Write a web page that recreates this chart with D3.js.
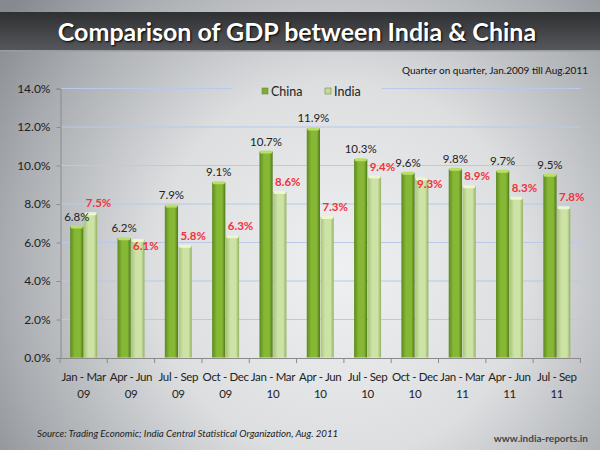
<!DOCTYPE html>
<html><head><meta charset="utf-8">
<script src="https://cdn.jsdelivr.net/npm/d3@7"></script>
<style>html,body{margin:0;padding:0;background:#fff;}svg{display:block;}</style>
</head><body>
<script>
const categories = ["Jan - Mar|09","Apr - Jun|09","Jul - Sep|09","Oct - Dec|09","Jan - Mar|10","Apr - Jun|10","Jul - Sep|10","Oct - Dec|10","Jan - Mar|11","Apr - Jun|11","Jul - Sep|11"];
const china = [6.8, 6.2, 7.9, 9.1, 10.7, 11.9, 10.3, 9.6, 9.8, 9.7, 9.5];
const india = [7.5, 6.1, 5.8, 6.3, 8.6, 7.3, 9.4, 9.3, 8.9, 8.3, 7.8];
const seriesNames = ["China", "India"];
const yTicks = [0, 2, 4, 6, 8, 10, 12, 14];
const title = "Comparison of GDP between India & China";
const subtitle = "Quarter on quarter, Jan.2009 till Aug.2011";
const source = "Source: Trading Economic; India Central Statistical Organization, Aug. 2011";
const site = "www.india-reports.in";

const FONT = "Lato, 'Open Sans', sans-serif";
const W = 600, H = 450;
const svg = d3.select("body").append("svg").attr("width", W).attr("height", H);
const defs = svg.append("defs");

// background gradient
const bg = defs.append("radialGradient").attr("id","bg").attr("gradientUnits","userSpaceOnUse")
  .attr("cx",340).attr("cy",270).attr("r",420);
bg.append("stop").attr("offset","0").attr("stop-color","#eef0f1");
bg.append("stop").attr("offset","0.45").attr("stop-color","#dcdee0");
bg.append("stop").attr("offset","0.8").attr("stop-color","#a8abaf");
bg.append("stop").attr("offset","1").attr("stop-color","#86898e");
svg.append("rect").attr("width",W).attr("height",H).attr("fill","url(#bg)");

// banner
const ban = defs.append("linearGradient").attr("id","ban").attr("x1",0).attr("y1",0).attr("x2",0).attr("y2",1);
ban.append("stop").attr("offset","0").attr("stop-color","#2f3032");
ban.append("stop").attr("offset","1").attr("stop-color","#55575a");
svg.append("rect").attr("x",0).attr("y",12).attr("width",W).attr("height",38).attr("fill","url(#ban)");
svg.append("rect").attr("x",0).attr("y",50).attr("width",W).attr("height",1.5).attr("fill","#9a9ca0");
svg.append("text").attr("x",297).attr("y",41).attr("text-anchor","middle")
  .attr("font-family",FONT).attr("font-weight","bold").attr("font-size",25)
  .attr("fill","#ffffff").attr("style","text-shadow:1px 1px 2px #000").text(title);
svg.append("text").attr("x",588).attr("y",74).attr("text-anchor","end")
  .attr("font-family",FONT).attr("font-size",10).attr("fill","#111").text(subtitle);

// scales
const x0 = d3.scaleBand().domain(categories).range([60, 580.5]).paddingInner(0.43).paddingOuter(0.215);
const x1 = d3.scaleBand().domain(seriesNames).range([0, x0.bandwidth()]).paddingInner(0.04);
const y = d3.scaleLinear().domain([0, 14]).range([357.5, 88]);

// gridlines
svg.append("g").selectAll("line").data(yTicks.filter(d => d > 0)).join("line")
  .attr("x1", 60).attr("x2", 580.5).attr("y1", d => y(d)+0.5).attr("y2", d => y(d)+0.5)
  .attr("stroke", "#b9c9ea").attr("stroke-width", 1);

// y axis
const yAxis = d3.axisLeft(y).tickValues(yTicks).tickFormat(d => d.toFixed(1) + "%").tickSize(4).tickPadding(6);
const gy = svg.append("g").attr("transform","translate(60.5,0.5)").call(yAxis);
gy.select(".domain").attr("stroke","#8a8a8a");
gy.selectAll(".tick line").attr("stroke","#8a8a8a");
gy.selectAll("text").attr("font-family",FONT).attr("font-size",12).attr("fill","#222");

// x axis
const xAxis = d3.axisBottom(x0).tickSize(0).tickFormat("");
const gx = svg.append("g").attr("transform",`translate(0,${y(0)+0.5})`).call(xAxis);
gx.select(".domain").attr("stroke","#8a8a8a");
const bounds = categories.map(c => x0(c) - x0.step()*x0.paddingInner()/2).concat([580.5]);
gx.selectAll("line.sep").data(bounds).join("line").attr("class","sep")
  .attr("x1", d => d).attr("x2", d => d).attr("y1", 0).attr("y2", 5).attr("stroke","#8a8a8a");
const catLab = svg.append("g").selectAll("text").data(categories).join("text")
  .attr("x", d => x0(d) + x0.bandwidth()/2).attr("y", 381).attr("text-anchor","middle")
  .attr("font-family",FONT).attr("font-size",11.5).attr("letter-spacing","-0.35px").attr("fill","#222");
catLab.each(function(d){
  const parts = d.split("|");
  d3.select(this).append("tspan").attr("x", x0(d)+x0.bandwidth()/2).attr("dy",0).text(parts[0]);
  d3.select(this).append("tspan").attr("x", x0(d)+x0.bandwidth()/2).attr("dy",17).text(parts[1]);
});

// bar gradients
function grad(id, edgeL, mid, edgeR) {
  const g = defs.append("linearGradient").attr("id", id).attr("x1",0).attr("x2",1).attr("y1",0).attr("y2",0);
  g.append("stop").attr("offset","0").attr("stop-color",edgeL);
  g.append("stop").attr("offset","0.35").attr("stop-color",mid);
  g.append("stop").attr("offset","0.75").attr("stop-color",mid);
  g.append("stop").attr("offset","1").attr("stop-color",edgeR);
}
grad("gChina", "#5d8a1f", "#86b835", "#4e7818");
grad("gIndia", "#a8c47a", "#cde3a6", "#93b163");
const fills = {China: "url(#gChina)", India: "url(#gIndia)"};
const caps = {China: "#b9df6a", India: "#ecf6cf"};
const legendFill = {China: "#7cb02c", India: "#c4dc98"};

const data = categories.map((c, i) => ({cat: c, vals: [{s:"China", v: china[i]}, {s:"India", v: india[i]}]}));
const groups = svg.append("g").selectAll("g").data(data).join("g").attr("transform", d => `translate(${x0(d.cat)},0)`);
groups.selectAll("rect.bar").data(d => d.vals).join("rect").attr("class","bar")
  .attr("x", d => x1(d.s)).attr("width", x1.bandwidth())
  .attr("y", d => y(d.v)).attr("height", d => y(0) - y(d.v)).attr("fill", d => fills[d.s]);
groups.selectAll("rect.cap").data(d => d.vals).join("rect").attr("class","cap")
  .attr("x", d => x1(d.s)+0.5).attr("width", x1.bandwidth()-1)
  .attr("y", d => y(d.v)-1).attr("height", 3).attr("rx",1.5).attr("fill", d => caps[d.s]);

// labels
const fs = 11.5;
const lw = 24;
data.forEach((d, i) => {
  const cx = x0(d.cat) + x1("China") + x1.bandwidth()/2;
  const ix = x0(d.cat) + x1("India") + x1.bandwidth()/2;
  const cy = y(china[i]) - 10;
  let iy = y(india[i]) - 10;
  const ixl = ix + 8;
  if (Math.abs(cy - iy) < 13 && Math.abs(cx - ixl) < lw) iy = y(india[i]) + 6;
  svg.append("text").attr("x", cx).attr("y", cy + 4).attr("text-anchor","middle")
    .attr("font-family",FONT).attr("font-size",fs).attr("fill","#222").text(china[i].toFixed(1) + "%");
  svg.append("text").attr("x", ixl).attr("y", iy + 4).attr("text-anchor","middle")
    .attr("font-family",FONT).attr("font-weight","bold").attr("font-size",fs).attr("fill","#f2323c").text(india[i].toFixed(1) + "%");
});

// legend
svg.append("rect").attr("x",232).attr("y",82).attr("width",150).attr("height",18).attr("fill","url(#bg)");
const leg = svg.append("g").selectAll("g").data(seriesNames).join("g")
  .attr("transform", (d, i) => `translate(${262 + i*63},91)`);
leg.append("rect").attr("x",0).attr("y",-3).attr("width",6).attr("height",6).attr("fill", d => legendFill[d]).attr("stroke","#5d7d2a").attr("stroke-width",0.5);
leg.append("text").attr("x",9).attr("y",4.5).attr("font-family",FONT).attr("font-size",12.5).attr("fill","#222").text(d => d);

// footer
svg.append("text").attr("x",37).attr("y",437).attr("font-family",FONT).attr("font-style","italic")
  .attr("font-size",9.7).attr("fill","#222").text(source);
svg.append("text").attr("x",588).attr("y",442).attr("text-anchor","end").attr("font-family",FONT)
  .attr("font-weight","bold").attr("font-size",10).attr("fill","#444").text(site);
</script>
</body></html>
